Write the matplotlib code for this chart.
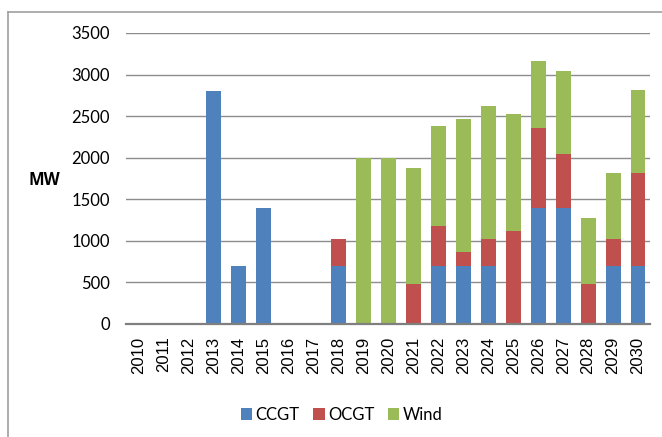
import matplotlib
matplotlib.use("Agg")
import matplotlib.pyplot as plt
from matplotlib.lines import Line2D
import numpy as np

years = [str(y) for y in range(2010, 2031)]
ccgt = [0, 0, 0, 2800, 700, 1400, 0, 0, 700, 0, 0, 0, 700, 700, 700, 0, 1400, 1400, 0, 700, 700]
ocgt = [0, 0, 0, 0, 0, 0, 0, 0, 320, 0, 0, 480, 480, 160, 320, 1120, 960, 640, 480, 320, 1120]
wind = [0, 0, 0, 0, 0, 0, 0, 0, 0, 2000, 2000, 1400, 1200, 1600, 1600, 1400, 800, 1000, 800, 800, 1000]

colors = {"CCGT": "#4F81BD", "OCGT": "#C0504D", "Wind": "#9BBB59"}

fig = plt.figure(figsize=(6.62, 4.37), dpi=100)
ax = fig.add_axes([0.191, 0.2586, 0.7916, 0.6659])

x = np.arange(len(years))
w = 0.6
ccgt_a = np.array(ccgt)
ocgt_a = np.array(ocgt)
wind_a = np.array(wind)
ax.bar(x, ccgt_a, w, color=colors["CCGT"], label="CCGT", zorder=3)
ax.bar(x, ocgt_a, w, bottom=ccgt_a, color=colors["OCGT"], label="OCGT", zorder=3)
ax.bar(x, wind_a, w, bottom=ccgt_a + ocgt_a, color=colors["Wind"], label="Wind", zorder=3)

ax.set_xlim(-0.5, len(years) - 0.5)
ax.set_ylim(0, 3500)
ax.set_yticks(range(0, 3501, 500))
ax.yaxis.grid(True, color="#8c8c8c", linewidth=1.0, zorder=0)
ax.set_axisbelow(True)
for s in ["top", "right", "left"]:
    ax.spines[s].set_visible(False)
ax.spines["bottom"].set_color("#7f7f7f")
ax.spines["bottom"].set_linewidth(1.6)
ax.spines["bottom"].set_zorder(4)

ax.set_xticks(x)
ax.set_xticklabels(years, rotation=90, fontsize=12, family="Liberation Sans")
ax.tick_params(axis="x", length=0, pad=9)
ax.tick_params(axis="y", length=0, pad=12, labelsize=12)
for lab in ax.get_yticklabels():
    lab.set_family("Lato")

fig.text(0.067, 0.588, "MW", fontsize=12, fontweight="bold", family="Open Sans",
         ha="center", va="center")

ax.legend(loc="center", bbox_to_anchor=(0.516, 0.05), bbox_transform=fig.transFigure,
          ncol=3, frameon=False, handlelength=0.7, handleheight=0.7,
          handletextpad=0.2, columnspacing=0.8, prop={"family": "Lato", "size": 12})

# outer chart frame (top and left edges visible)
fig.add_artist(Line2D([0.0127, 1.0], [0.9725, 0.9725], color="#a0a0a0", lw=1.2))
fig.add_artist(Line2D([0.0127, 0.0127], [0.0, 0.9725], color="#a0a0a0", lw=1.2))

fig.savefig("out.png", dpi=100)
